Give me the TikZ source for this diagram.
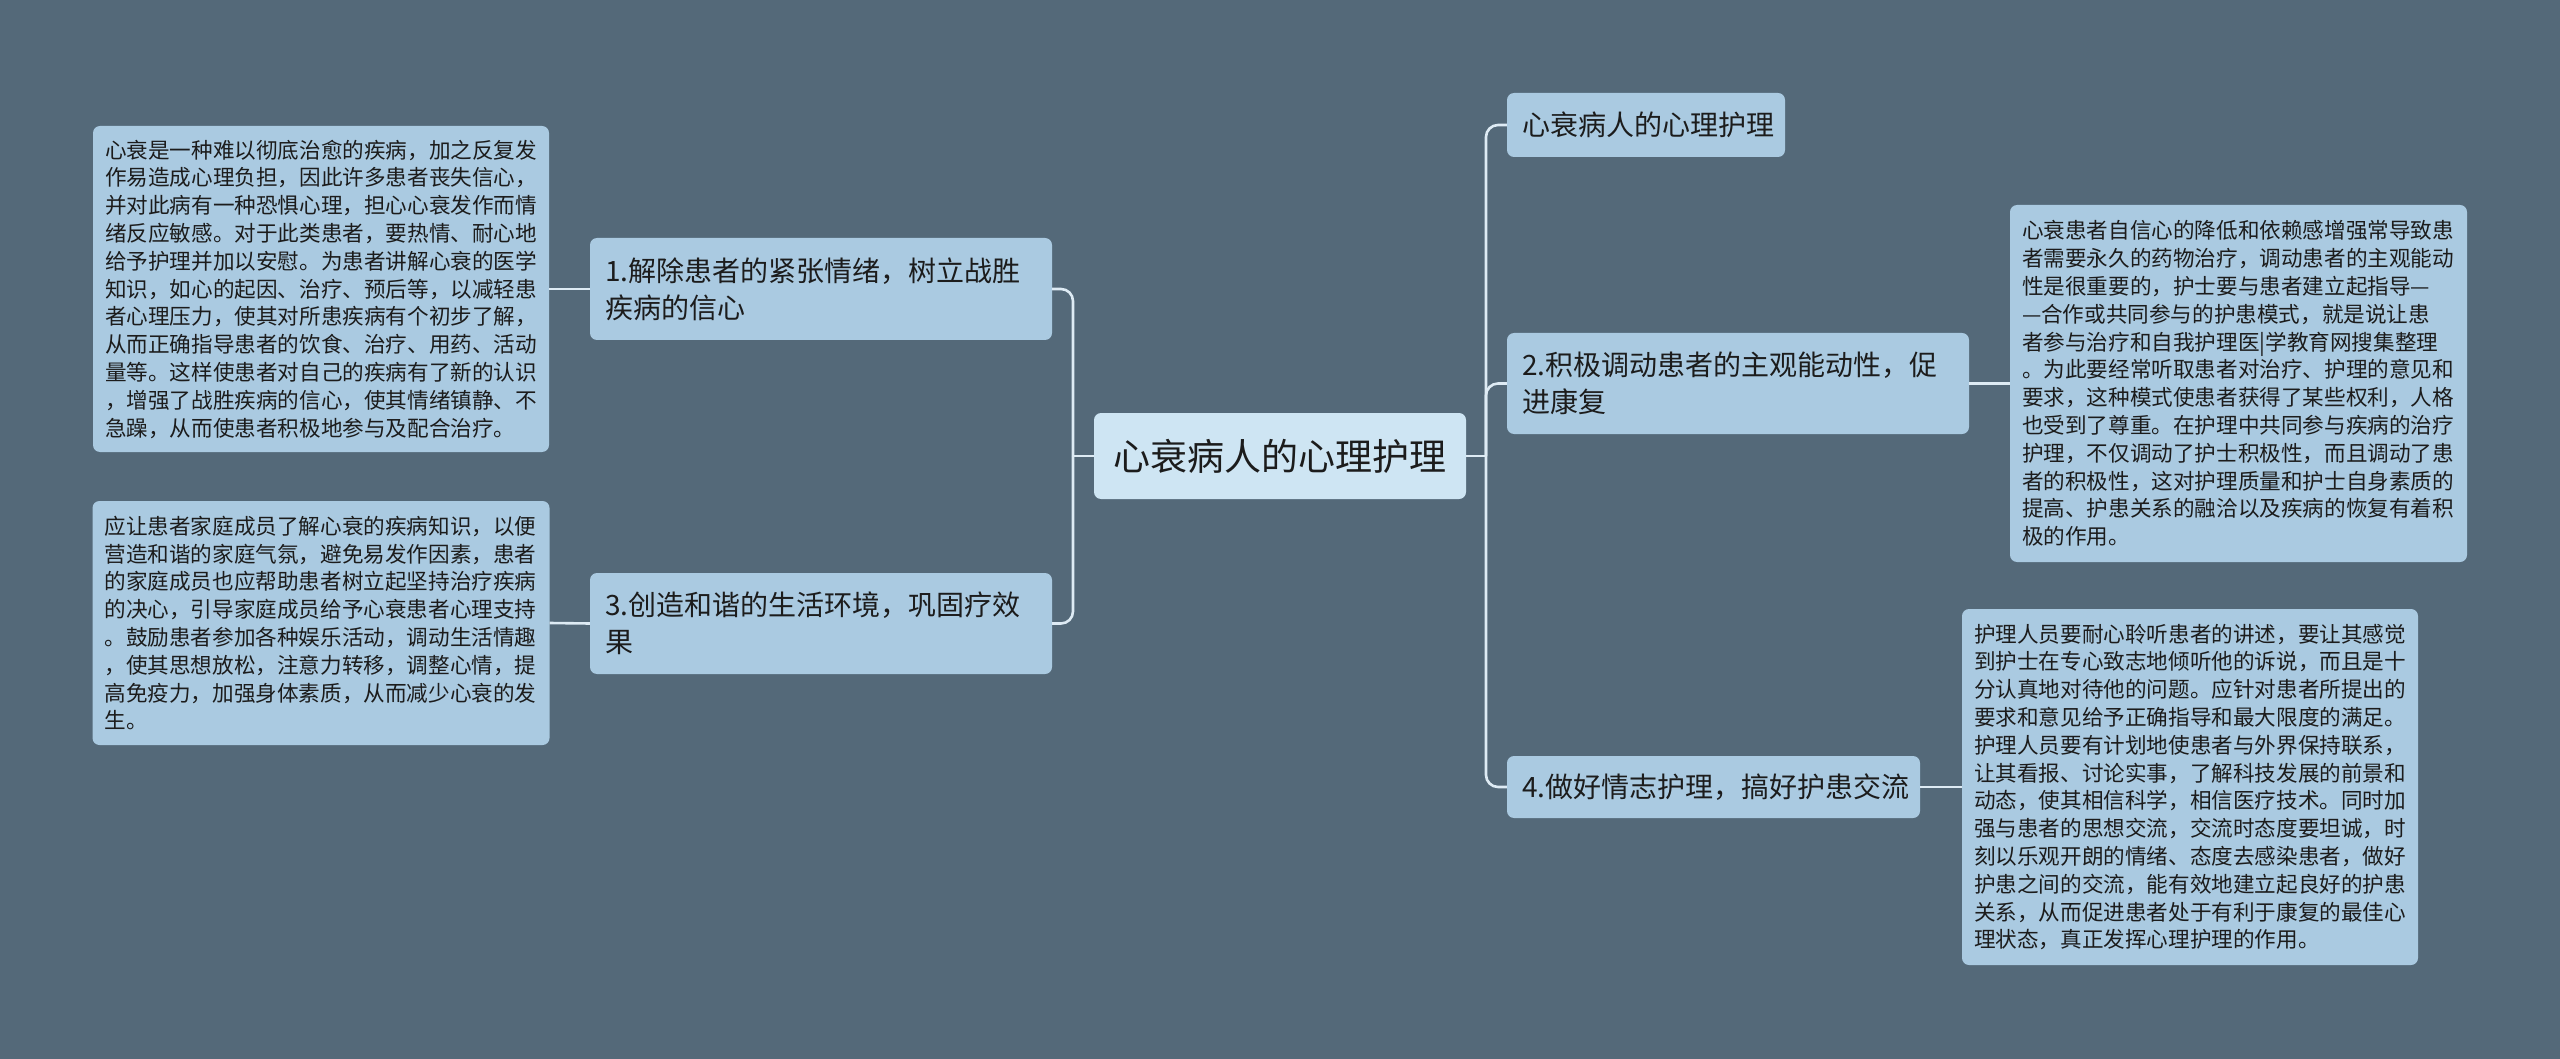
\documentclass[tikz,border=0pt]{standalone}
\usepackage{fontspec}
\setmainfont{Noto Sans CJK SC}
\definecolor{bgc}{RGB}{84,105,121}
\definecolor{nodefill}{RGB}{170,202,225}
\definecolor{rootfill}{RGB}{206,229,243}
\definecolor{linec}{RGB}{222,235,244}
\definecolor{txt}{RGB}{28,28,28}
\begin{document}
\begin{tikzpicture}[x=1pt,y=-1pt,
  box/.style={fill=nodefill, rounded corners=7pt, text=txt, align=left, inner ysep=0pt, anchor=center},
  leaf/.style={box, font={\fontsize{21.6pt}{27.8pt}\selectfont}, inner xsep=12pt},
  branch/.style={box, font={\fontsize{28pt}{37pt}\selectfont}, inner xsep=15pt},
  rootnode/.style={box, fill=rootfill, align=center, font={\fontsize{37pt}{44pt}\selectfont}, inner xsep=17pt},
  conn/.style={draw=linec, line width=2.6pt},
  elbow/.style={conn, rounded corners=12pt}]
\fill[bgc] (0,0) rectangle (2560,1059);
\useasboundingbox (0,0) rectangle (2560,1059);

% root
\node[rootnode, text width=338pt, minimum height=86pt] (C) at (1280,456) {心衰病人的心理护理};

% left branches
\node[branch, text width=432pt, minimum height=102pt] (N1) at (821,289) {1.解除患者的紧张情绪，树立战胜\\疾病的信心};
\node[branch, text width=432pt, minimum height=101pt] (N3) at (821,623.5) {3.创造和谐的生活环境，巩固疗效\\果};

% right branches
\node[branch, text width=248pt, minimum height=64pt] (R1) at (1646,125) {心衰病人的心理护理};
\node[branch, text width=432pt, minimum height=101pt] (R2) at (1738,383.5) {2.积极调动患者的主观能动性，促\\进康复};
\node[branch, text width=383pt, minimum height=62pt] (R4) at (1713.5,787) {4.做好情志护理，搞好护患交流};

% leaves
\node[leaf, text width=432pt, minimum height=326pt] (T1) at (321,289) {心衰是一种难以彻底治愈的疾病，加之反复发\\作易造成心理负担，因此许多患者丧失信心，\\并对此病有一种恐惧心理，担心心衰发作而情\\绪反应敏感。对于此类患者，要热情、耐心地\\给予护理并加以安慰。为患者讲解心衰的医学\\知识，如心的起因、治疗、预后等，以减轻患\\者心理压力，使其对所患疾病有个初步了解，\\从而正确指导患者的饮食、治疗、用药、活动\\量等。这样使患者对自己的疾病有了新的认识\\，增强了战胜疾病的信心，使其情绪镇静、不\\急躁，从而使患者积极地参与及配合治疗。};
\node[leaf, text width=433pt, minimum height=244pt] (T3) at (321,623) {应让患者家庭成员了解心衰的疾病知识，以便\\营造和谐的家庭气氛，避免易发作因素，患者\\的家庭成员也应帮助患者树立起坚持治疗疾病\\的决心，引导家庭成员给予心衰患者心理支持\\。鼓励患者参加各种娱乐活动，调动生活情趣\\，使其思想放松，注意力转移，调整心情，提\\高免疫力，加强身体素质，从而减少心衰的发\\生。};
\node[leaf, text width=433pt, minimum height=357pt] (T2) at (2238.5,383.5) {心衰患者自信心的降低和依赖感增强常导致患\\者需要永久的药物治疗，调动患者的主观能动\\性是很重要的，护士要与患者建立起指导—\\—合作或共同参与的护患模式，就是说让患\\者参与治疗和自我护理医|学教育网搜集整理\\。为此要经常听取患者对治疗、护理的意见和\\要求，这种模式使患者获得了某些权利，人格\\也受到了尊重。在护理中共同参与疾病的治疗\\护理，不仅调动了护士积极性，而且调动了患\\者的积极性，这对护理质量和护士自身素质的\\提高、护患关系的融洽以及疾病的恢复有着积\\极的作用。};
\node[leaf, text width=432pt, minimum height=356pt] (T4) at (2190,787) {护理人员要耐心聆听患者的讲述，要让其感觉\\到护士在专心致志地倾听他的诉说，而且是十\\分认真地对待他的问题。应针对患者所提出的\\要求和意见给予正确指导和最大限度的满足。\\护理人员要有计划地使患者与外界保持联系，\\让其看报、讨论实事，了解科技发展的前景和\\动态，使其相信科学，相信医疗技术。同时加\\强与患者的思想交流，交流时态度要坦诚，时\\刻以乐观开朗的情绪、态度去感染患者，做好\\护患之间的交流，能有效地建立起良好的护患\\关系，从而促进患者处于有利于康复的最佳心\\理状态，真正发挥心理护理的作用。};

% spines
\coordinate (LS) at (1073,456);
\coordinate (RS) at (1486,456);
\draw[conn] (C.west) -- (LS);
\draw[elbow] (LS) |- (N1.east);
\draw[elbow] (LS) |- (N3.east);
\draw[conn] (C.east) -- (RS);
\draw[elbow] (RS) |- (R1.west);
\draw[elbow] (RS) |- (R2.west);
\draw[elbow] (RS) |- (R4.west);

% leaf connectors
\draw[conn] (N1.west) -- (T1.east);
\draw[conn] (N3.west) -- (T3.east);
\draw[conn] (R2.east) -- (T2.west);
\draw[conn] (R4.east) -- (T4.west);
\end{tikzpicture}
\end{document}
